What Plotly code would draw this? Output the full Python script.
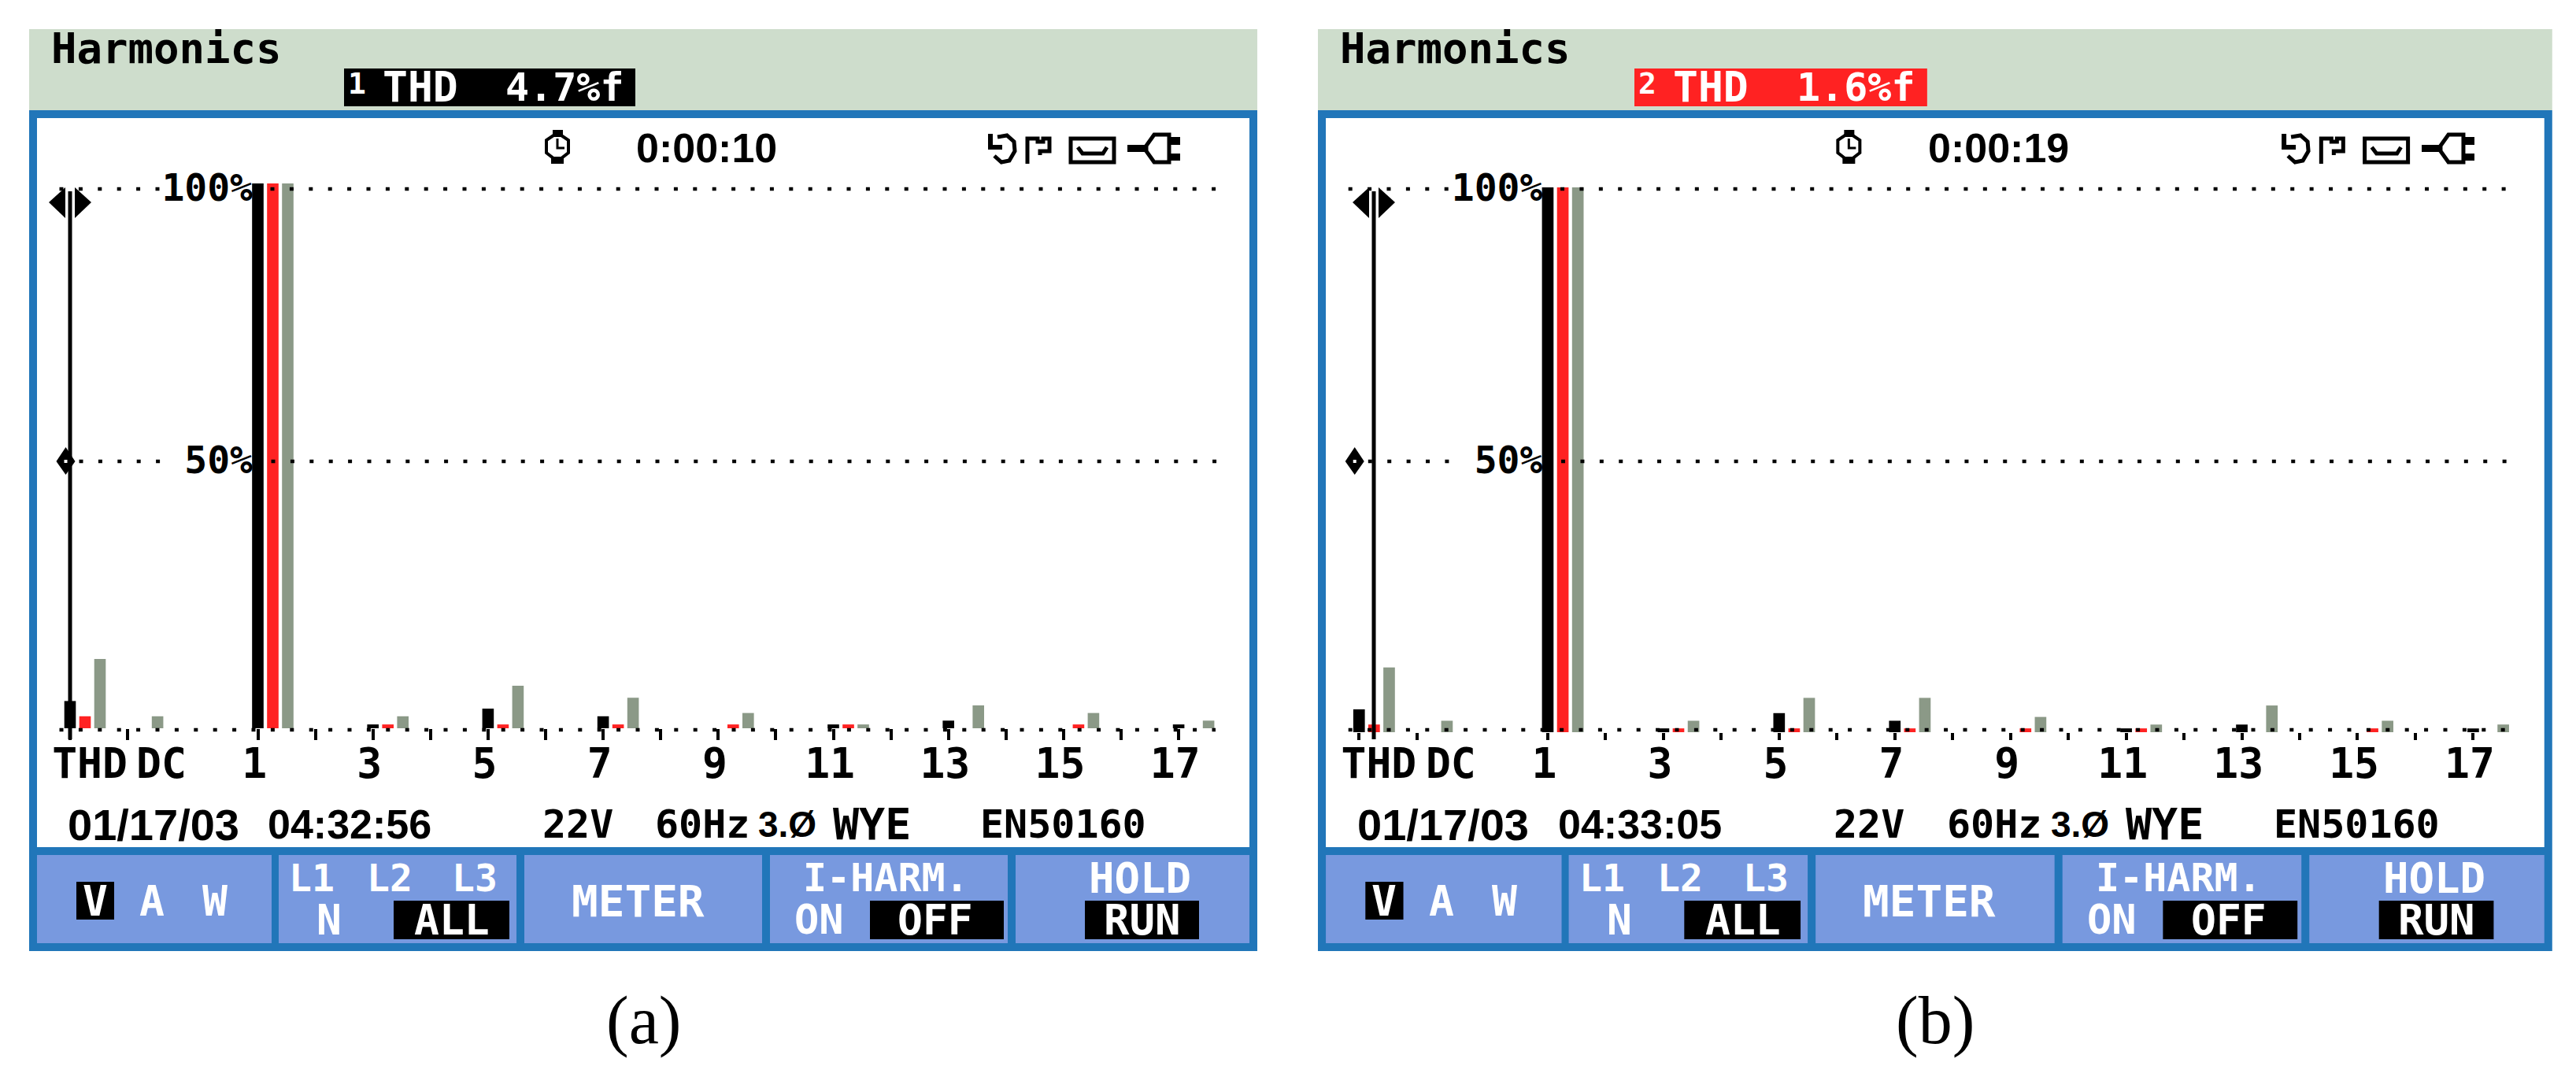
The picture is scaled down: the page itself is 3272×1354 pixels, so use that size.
import plotly.graph_objects as go

# ---------- data ----------
categories = ["THD", "DC"] + [str(h) for h in range(1, 18)]
tick_labels = ["THD", "DC", "1", "3", "5", "7", "9", "11", "13", "15", "17"]
y_tick_labels = ["100%", "50%"]

a_black = [5.0, 0, 100, 0, 0.7, 0, 3.6, 0, 2.2, 0, 0, 0, 0.7, 0, 1.4, 0, 0, 0, 0.7]
a_red   = [2.2, 0, 100, 0, 0.7, 0, 0.7, 0, 0.7, 0, 0.7, 0, 0.7, 0, 0, 0, 0.7, 0, 0]
a_grey  = [12.7, 2.2, 100, 0, 2.2, 0, 7.8, 0, 5.6, 0, 2.8, 0, 0.7, 0, 4.2, 0, 2.8, 0, 1.4]

b_black = [4.2, 0, 100, 0, 0.7, 0, 3.5, 0, 2.1, 0, 0, 0, 0.7, 0, 1.4, 0, 0, 0, 0.7]
b_red   = [1.4, 0, 100, 0, 0.7, 0, 0.7, 0, 0.7, 0, 0.7, 0, 0.7, 0, 0, 0, 0.7, 0, 0]
b_grey  = [11.9, 2.1, 100, 0, 2.1, 0, 6.3, 0, 6.3, 0, 2.8, 0, 1.4, 0, 4.9, 0, 2.1, 0, 1.4]

headers = ["THD", "THD"]
channels = ["1", "2"]
thd_values = ["4.7%f", "1.6%f"]
timers = ["0:00:10", "0:00:19"]
dates = ["01/17/03", "01/17/03"]
times = ["04:32:56", "04:33:05"]
captions = ["(a)", "(b)"]

# ---------- style ----------
W, H = 3272, 1354
FRAME = "#2176B9"
BTN = "#7899DF"
HEAD = "#CEDDCC"
RED = "#FF2222"
GREY = "#8B9987"
MONO = "DejaVu Sans Mono"
SANS = "Liberation Sans"

fx = lambda p: p / W
fy = lambda p: 1 - p / H

shapes, annotations = [], []


def rect(x0, y0, x1, y1, color, layer="above"):
    shapes.append(dict(type="rect", xref="paper", yref="paper", x0=fx(x0), x1=fx(x1),
                       y0=fy(y0), y1=fy(y1), fillcolor=color, line_width=0, layer=layer))


def poly(points, fill=None, stroke=None, width=0, closed=True):
    d = "M " + " L ".join(f"{fx(x):.6f} {fy(y):.6f}" for x, y in points) + (" Z" if closed else "")
    shapes.append(dict(type="path", xref="paper", yref="paper", path=d,
                       fillcolor=fill if fill else "rgba(0,0,0,0)",
                       line=dict(color=stroke if stroke else "rgba(0,0,0,0)", width=width), layer="above"))


def text(s, x, y, size, color="black", family=MONO, bold=True):
    annotations.append(dict(text=s, x=fx(x), y=fy(y), xref="paper", yref="paper", showarrow=False,
                            xanchor="center", yanchor="middle", borderpad=0,
                            font=dict(family=family, size=size, color=color,
                                      weight="bold" if bold else "normal")))


def panel(i, mx, cursor):
    """mx maps a pixel column measured on panel (a) to this panel."""
    # frame
    rect(mx(37), 37, mx(1597), 140, HEAD, "below")
    rect(mx(37), 140, mx(1597), 1208, FRAME, "below")
    rect(mx(47), 150, mx(1587), 1076, "white", "below")
    for x0, x1 in [(47, 345), (354, 656), (666, 968), (978, 1280), (1290, 1587)]:
        rect(mx(x0), 1086, mx(x1), 1198, BTN, "below")

    # header
    text("Harmonics", mx(211), 62, 54)
    rect(mx(437), 87, mx(807), 135, "black" if i == 0 else RED)
    text(channels[i], mx(453), 106, 38, "white")
    text(headers[i], mx(534), 111, 53, "white")
    text(thd_values[i], mx(717), 111, 50, "white")

    # top status
    text(timers[i], mx(897), 188, 52, family=SANS)
    cx = mx(708)
    poly([(cx - 5, 172), (cx + 5, 172), (cx + 14, 178), (cx + 14, 194), (cx + 5, 201), (cx - 5, 201),
          (cx - 14, 194), (cx - 14, 178)], stroke="black", width=4)
    rect(cx - 6, 165, cx + 7, 173, "black")
    rect(cx - 8, 199, cx + 8, 208, "black")
    poly([(cx, 176), (cx, 188), (cx + 9, 188)], stroke="black", width=3, closed=False)
    # undo, flag, tape and plug icons
    u = mx(1255)
    poly([(u, 170), (u + 6, 170), (u + 6, 184), (u + 18, 184), (u + 18, 190), (u, 190)], fill="black")
    poly([(u + 12, 174), (u + 24, 172), (u + 33, 180), (u + 34, 192), (u + 27, 204), (u + 17, 206),
          (u + 8, 198)], stroke="black", width=5, closed=False)
    f = mx(1303)
    poly([(f + 2, 208), (f + 2, 176), (f + 15, 176), (f + 15, 180), (f + 22, 180), (f + 22, 176),
          (f + 30, 176), (f + 30, 192), (f + 18, 192), (f + 18, 197)], stroke="black", width=5, closed=False)
    t = mx(1358)
    poly([(t + 2, 176), (t + 57, 176), (t + 57, 206), (t + 2, 206)], stroke="black", width=5)
    poly([(t + 11, 187), (t + 17, 195), (t + 43, 195), (t + 48, 187)], stroke="black", width=5, closed=False)
    p = mx(1432)
    rect(p, 184, p + 24, 193, "black")
    poly([(p + 53, 171), (p + 34, 171), (p + 24, 185), (p + 24, 192), (p + 34, 206), (p + 53, 206)],
         stroke="black", width=5)
    rect(p + 52, 174, p + 67, 184, "black")
    rect(p + 52, 195, p + 67, 204, "black")

    # dotted level lines
    dash = "5px,19.4px"
    for x0, x1, y in [(75.5, 208, 240), (343.5, 1546, 240), (100.5, 206, 586), (344.5, 1546, 586), (75.5, 1544, 927)]:
        shapes.append(dict(type="line", xref="paper", yref="paper", x0=fx(mx(x0)), x1=fx(mx(x1)),
                           y0=fy(y), y1=fy(y), line=dict(color="black", width=4.5, dash=dash), layer="above"))

    # cursor
    rect(cursor - 2.5, 243, cursor + 2.5, 939, "black")
    poly([(cursor - 27, 257), (cursor - 6, 238), (cursor - 6, 277)], fill="black")
    poly([(cursor + 27, 257), (cursor + 6, 238), (cursor + 6, 277)], fill="black")
    d = mx(83.5)
    poly([(d - 12, 586), (d, 568), (d + 12, 586), (d, 603)], fill="black")
    rect(d - 2, 584, d + 2, 588, "white")

    # footer
    text(dates[i], mx(195), 1047, 56, family=SANS)
    text(times[i], mx(444), 1047, 52, family=SANS)
    text("22V", mx(734), 1047, 50)
    text("60Hz", mx(892), 1047, 50)
    text("3.Ø", mx(1000), 1047, 46, family=SANS)
    text("WYE", mx(1107), 1047, 55)
    text("EN50160", mx(1350), 1047, 50)

    # buttons
    rect(mx(97), 1120, mx(145), 1168, "black")
    text("V", mx(121), 1144, 53, "white")
    text("A", mx(193), 1144, 53, "white")
    text("W", mx(273), 1144, 53, "white")
    text("L1", mx(396), 1115, 48, "white")
    text("L2", mx(495), 1115, 48, "white")
    text("L3", mx(603), 1115, 48, "white")
    text("N", mx(418), 1168, 53, "white")
    rect(mx(500), 1144, mx(647), 1193, "black")
    text("ALL", mx(574), 1168, 53, "white")
    text("METER", mx(810), 1144, 56, "white")
    text("I-HARM.", mx(1125), 1115, 50, "white")
    text("ON", mx(1040), 1168, 52, "white")
    rect(mx(1105), 1144, mx(1275), 1193, "black")
    text("OFF", mx(1188), 1168, 53, "white")
    text("HOLD", mx(1448), 1115, 54, "white")
    rect(mx(1378), 1144, mx(1523), 1193, "black")
    text("RUN", mx(1451), 1168, 54, "white")

    # caption
    text(captions[i], mx(817), 1296, 86, family="Liberation Serif", bold=False)


map_a = lambda x: x
map_b = lambda x: 1674 + (x - 37) * 1.005

panel(0, map_a, 89)
panel(1, map_b, 1745)

# ---------- harmonic slots ----------
SPACING, H1 = 73.1, 327.5
thd_slot = (89 - H1) / SPACING + 1
slots = [thd_slot, thd_slot + 1] + list(range(1, 18))
label_slots = [(114 - H1) / SPACING + 1, (205 - H1) / SPACING + 1] + [h - 0.06 for h in range(1, 18, 2)]

fig = go.Figure()
series = [(a_black, a_red, a_grey), (b_black, b_red, b_grey)]
bases = [(925, 233), (930, 238)]
axes = [("x", "y"), ("x2", "y2")]
mappers = [map_a, map_b]

layout = {}
for i, (vals, (base_px, top_px), (xa, ya), mx) in enumerate(zip(series, bases, axes, mappers)):
    for v, color, off in zip(vals, ["black", RED, GREY], [-0.1, 0.16, 0.42]):
        fig.add_trace(go.Bar(x=slots, y=v, width=0.2, offset=off, marker=dict(color=color, line_width=0),
                             xaxis=xa, yaxis=ya, showlegend=False, hovertext=categories))
    s = "" if i == 0 else "2"
    left, right = mx(47), mx(1587)
    px_per_slot = SPACING * (1.005 if i else 1)
    h1 = mx(H1)
    layout[f"xaxis{s}"] = dict(
        domain=[fx(left), fx(right)],
        range=[(left - h1) / px_per_slot + 1, (right - h1) / px_per_slot + 1],
        tickmode="array", tickvals=label_slots, ticktext=tick_labels,
        tickfont=dict(family=MONO, size=53, color="black", weight="bold"),
        ticks="", showgrid=False, zeroline=False, showline=False, tickangle=0,
        ticklabelstandoff=9 if i == 0 else 4,
        minor=dict(tickmode="array", tickvals=slots, ticks="outside", ticklen=939 - base_px,
                   tickwidth=4, tickcolor="black", showgrid=False),
        anchor=ya, automargin=False,
    )
    level_100 = (base_px - 238) / (base_px - top_px) * 100
    level_50 = (base_px - 584) / (base_px - top_px) * 100
    layout[f"yaxis{s}"] = dict(
        domain=[fy(base_px), fy(top_px)], range=[0, 100],
        tickmode="array", tickvals=[level_100, level_50], ticktext=y_tick_labels,
        tickfont=dict(family=MONO, size=48, color="black", weight="bold"),
        ticks="", showgrid=False, zeroline=False, showline=False,
        anchor="free", position=fx(mx(321)), side="left", layer="above traces",
        ticklabelstandoff=0, automargin=False,
    )

fig.update_layout(
    width=W, height=H, autosize=False, margin=dict(l=0, r=0, t=0, b=0, pad=0, autoexpand=False),
    paper_bgcolor="white", plot_bgcolor="rgba(0,0,0,0)", barmode="overlay",
    shapes=shapes, annotations=annotations, showlegend=False, **layout,
)
fig.write_html("out.html", config={"displayModeBar": False},
               post_script="document.body.style.margin='0';")
